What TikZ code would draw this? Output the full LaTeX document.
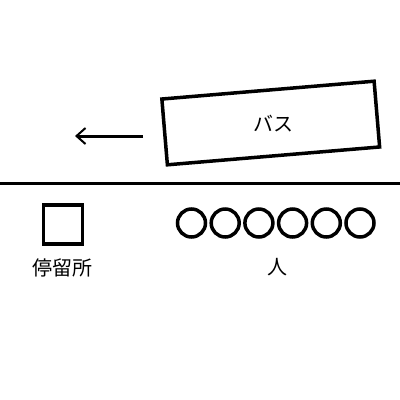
\documentclass[tikz,border=0pt]{standalone}
\usepackage{fontspec}
\newfontfamily\cjk{Noto Sans CJK JP}
\usetikzlibrary{arrows.meta}
\begin{document}
\begin{tikzpicture}[x=1pt,y=-1pt,
  thick3/.style={line width=3pt},
  lbl/.style={font=\cjk\fontsize{20}{20}\selectfont, inner sep=0pt},
  person/.style={circle, draw, line width=3.5pt, minimum size=28pt, inner sep=0pt},
]
\useasboundingbox (0,0) rectangle (400,400);
% road
\coordinate (roadL) at (0,183);
\coordinate (roadR) at (400,183);
\draw[thick3] (roadL) -- (roadR);
% bus
\node[draw, line width=3.5pt, minimum width=213pt, minimum height=66pt, rotate=4.8] (bus) at (270.75,123) {};
\node[lbl] (bustext) at (273,124) {バス};
% arrow
\coordinate (arrS) at (143,136);
\coordinate (arrE) at (75,136);
\draw[thick3, -{Straight Barb[length=9pt,width=16pt,line width=2pt]}] (arrS) -- (arrE);
% stop
\node[draw, line width=3.5pt, minimum size=39pt, inner sep=0pt] (stop) at (63,224.5) {};
\node[lbl] (stoplbl) at (63,268) {停留所};
% people
\foreach \i in {0,...,5}{
  \node[person] (p\i) at ({191.5+33.7*\i},223) {};
}
\node[lbl] (people) at (277.5,267) {人};
\end{tikzpicture}
\end{document}
